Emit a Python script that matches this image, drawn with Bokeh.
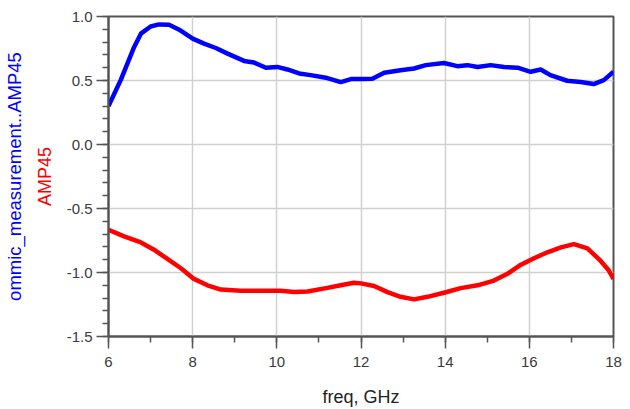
from bokeh.plotting import figure
from bokeh.models import Range1d, SingleIntervalTicker, NumeralTickFormatter, Title
from bokeh.embed import file_html
from bokeh.resources import INLINE

# Measured magnitude of AMP45 (blue) and simulated AMP45 (red) versus frequency
freq_meas = [6.0, 6.29, 6.61, 6.77, 7.0, 7.2, 7.44, 7.68, 8.0, 8.27, 8.55, 8.83, 9.22,
             9.46, 9.74, 10.01, 10.25, 10.53, 10.8, 11.2, 11.52, 11.76, 12.0, 12.27,
             12.55, 12.94, 13.26, 13.54, 13.97, 14.29, 14.53, 14.77, 15.08, 15.4, 15.72,
             16.03, 16.27, 16.5, 16.9, 17.22, 17.53, 17.77, 18.0]
amp45_meas = [0.30, 0.503, 0.762, 0.866, 0.922, 0.938, 0.935, 0.897, 0.827, 0.788, 0.754,
              0.71, 0.653, 0.64, 0.60, 0.606, 0.586, 0.555, 0.542, 0.519, 0.488, 0.511,
              0.511, 0.514, 0.56, 0.58, 0.594, 0.62, 0.637, 0.612, 0.62, 0.606, 0.62,
              0.606, 0.60, 0.568, 0.586, 0.542, 0.498, 0.488, 0.472, 0.503, 0.568]

freq_sim = [6.0, 6.37, 6.77, 7.08, 7.4, 7.72, 8.03, 8.35, 8.67, 9.14, 9.62, 10.09, 10.41,
            10.73, 11.2, 11.52, 11.83, 12.0, 12.31, 12.63, 12.94, 13.26, 13.58, 13.97,
            14.37, 14.77, 15.16, 15.48, 15.79, 16.11, 16.43, 16.75, 17.06, 17.38, 17.69,
            17.89, 18.0]
amp45_sim = [-0.667, -0.718, -0.765, -0.822, -0.894, -0.967, -1.05, -1.10, -1.133, -1.143,
             -1.143, -1.143, -1.153, -1.148, -1.12, -1.10, -1.08, -1.085, -1.106, -1.153,
             -1.19, -1.21, -1.19, -1.158, -1.122, -1.10, -1.063, -1.01, -0.941, -0.889,
             -0.842, -0.804, -0.778, -0.811, -0.908, -0.985, -1.05]

FONT = "Liberation Sans"
AXIS_COLOR = "#555555"
TEXT_COLOR = "#3a3a3a"

p = figure(width=630, height=409, output_backend="svg", toolbar_location=None,
           x_range=Range1d(6, 18), y_range=Range1d(-1.5, 1.0),
           min_border_left=108, min_border_right=17, min_border_top=16,
           min_border_bottom=71, background_fill_color="white",
           border_fill_color="white")

p.outline_line_color = AXIS_COLOR
p.outline_line_width = 2

p.line(freq_meas, amp45_meas, line_color="#0000ff", line_width=4.5, line_join="round")
p.line(freq_sim, amp45_sim, line_color="#ff0000", line_width=4.5, line_join="round")

p.xaxis.ticker = SingleIntervalTicker(interval=2, num_minor_ticks=2)
p.yaxis.ticker = SingleIntervalTicker(interval=0.5, num_minor_ticks=5)
p.xaxis.formatter = NumeralTickFormatter(format="0")
p.yaxis.formatter = NumeralTickFormatter(format="0.0")

for ax in (p.xaxis, p.yaxis):
    ax.axis_line_color = AXIS_COLOR
    ax.axis_line_width = 2
    ax.major_tick_line_color = AXIS_COLOR
    ax.minor_tick_line_color = AXIS_COLOR
    ax.major_tick_line_width = 1.5
    ax.minor_tick_line_width = 1.5
    ax.major_tick_out = 12
    ax.major_tick_in = 0
    ax.minor_tick_out = 6
    ax.minor_tick_in = 0
    ax.major_label_text_font = FONT
    ax.major_label_text_font_size = "15px"
    ax.major_label_text_color = TEXT_COLOR

p.yaxis.major_label_standoff = 4
p.xaxis.major_label_standoff = 8

p.xaxis.axis_label = "freq, GHz"
p.xaxis.axis_label_text_font = FONT
p.xaxis.axis_label_text_font_size = "18px"
p.xaxis.axis_label_text_font_style = "normal"
p.xaxis.axis_label_text_color = "#222222"
p.xaxis.axis_label_standoff = 17

p.xgrid.grid_line_color = "#d0d0d0"
p.ygrid.grid_line_color = "#d0d0d0"
p.xgrid.grid_line_width = 1.5
p.ygrid.grid_line_width = 1.5

# Two-colour y label: inner line for the red trace, outer line for the blue trace
p.add_layout(Title(text="AMP45", align="center", text_color="#ff0000",
                   text_font=FONT, text_font_size="18px", text_font_style="normal",
                   standoff=17), "left")
p.add_layout(Title(text="ommic_measurement..AMP45", align="center",
                   text_color="#0000ff", text_font=FONT, text_font_size="18.5px",
                   text_font_style="normal", standoff=0), "left")

open("out.html", "w").write(file_html(p, INLINE))
